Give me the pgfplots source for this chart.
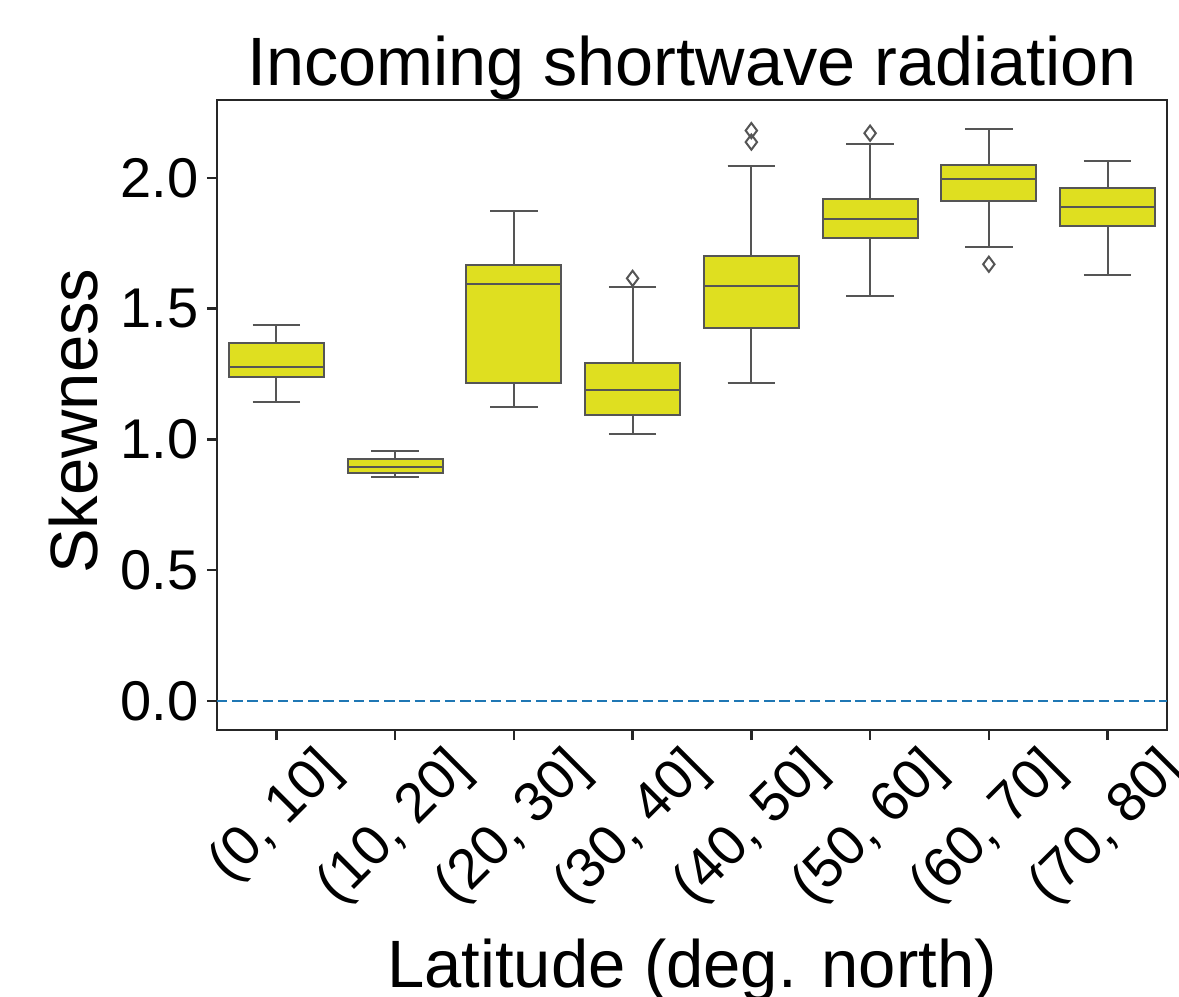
\documentclass[border=0pt]{standalone}
\usepackage{fontspec}
\setmainfont{Liberation Sans}
\usepackage{graphicx}
\usepackage{pgfplots}
\pgfplotsset{compat=1.18}
\usepgfplotslibrary{statistics}
\definecolor{boxfill}{HTML}{DFDF20}
\definecolor{edge}{HTML}{555555}
\definecolor{tabblue}{HTML}{1F77B4}
\newcommand{\tl}[1]{\rotatebox{45}{#1}}
\begin{document}
\begin{tikzpicture}
\begin{axis}[
  scale only axis,
  width=237.5bp, height=157.5bp,
  xmin=-0.5, xmax=7.5,
  ymin=-0.111, ymax=2.298,
  xtick={0,1,2,3,4,5,6,7},
  xticklabels={{\tl{(0, 10]}},{\tl{(10, 20]}},{\tl{(20, 30]}},{\tl{(30, 40]}},{\tl{(40, 50]}},{\tl{(50, 60]}},{\tl{(60, 70]}},{\tl{(70, 80]}}},
  ytick={0,0.5,1,1.5,2},
  yticklabel style={/pgf/number format/.cd, fixed, fixed zerofill, precision=1, /tikz/.cd},
  /pgf/number format/assume math mode=true,
  tick align=outside,
  xtick pos=bottom, ytick pos=left,
  major tick length=2.5bp,
  axis line style={line width=0.6bp, draw=black!85},
  tick style={line width=0.6bp, draw=black!85},
  ticklabel style={font=\fontsize{14bp}{16bp}\selectfont},
  xticklabel style={anchor=north, inner sep=0pt, yshift=-0.5bp},
  yticklabel style={inner sep=0pt, xshift=-2bp},
  title={Incoming shortwave radiation},
  every axis title/.style={at={(axis description cs:0.5,1.0238)}, anchor=base, font=\fontsize{17.1bp}{19bp}\selectfont, inner sep=0pt},
  xlabel={Latitude (deg. north)},
  xlabel style={at={(axis description cs:0.5,-0.408)}, anchor=base, font=\fontsize{16.75bp}{19bp}\selectfont, inner sep=0pt},
  ylabel={Skewness},
  ylabel style={at={(axis description cs:-0.1263,0.49)}, anchor=base, font=\fontsize{16.75bp}{19bp}\selectfont, inner sep=0pt},
  boxplot/draw direction=y,
  boxplot/box extend=0.8,
  boxplot/whisker extend=0.4,
  clip=false,
]
\addplot[tabblue, line width=0.5bp, dash pattern=on 2.6bp off 1.2bp] coordinates {(-0.5,0) (7.5,0)};

\addplot[boxplot prepared={draw position=0, lower whisker=1.143, lower quartile=1.238, median=1.278, upper quartile=1.367, upper whisker=1.436},
  draw=edge, fill=boxfill, line width=0.5bp] coordinates {};
\addplot[boxplot prepared={draw position=1, lower whisker=0.857, lower quartile=0.871, median=0.894, upper quartile=0.925, upper whisker=0.956},
  draw=edge, fill=boxfill, line width=0.5bp] coordinates {};
\addplot[boxplot prepared={draw position=2, lower whisker=1.123, lower quartile=1.216, median=1.593, upper quartile=1.666, upper whisker=1.874},
  draw=edge, fill=boxfill, line width=0.5bp] coordinates {};
\addplot[boxplot prepared={draw position=3, lower whisker=1.020, lower quartile=1.093, median=1.190, upper quartile=1.294, upper whisker=1.582},
  draw=edge, fill=boxfill, line width=0.5bp, mark=diamond, mark size=1.9bp, mark options={draw=edge, fill=white, solid}]
  table[row sep=\\, y index=0, header=false] {1.616\\};
\addplot[boxplot prepared={draw position=4, lower whisker=1.216, lower quartile=1.425, median=1.588, upper quartile=1.703, upper whisker=2.046},
  draw=edge, fill=boxfill, line width=0.5bp, mark=diamond, mark size=1.9bp, mark options={draw=edge, fill=white, solid}]
  table[row sep=\\, y index=0, header=false] {2.137\\ 2.181\\};
\addplot[boxplot prepared={draw position=5, lower whisker=1.550, lower quartile=1.769, median=1.843, upper quartile=1.921, upper whisker=2.129},
  draw=edge, fill=boxfill, line width=0.5bp, mark=diamond, mark size=1.9bp, mark options={draw=edge, fill=white, solid}]
  table[row sep=\\, y index=0, header=false] {2.171\\};
\addplot[boxplot prepared={draw position=6, lower whisker=1.734, lower quartile=1.911, median=1.994, upper quartile=2.051, upper whisker=2.186},
  draw=edge, fill=boxfill, line width=0.5bp, mark=diamond, mark size=1.9bp, mark options={draw=edge, fill=white, solid}]
  table[row sep=\\, y index=0, header=false] {1.670\\};
\addplot[boxplot prepared={draw position=7, lower whisker=1.629, lower quartile=1.816, median=1.890, upper quartile=1.963, upper whisker=2.066},
  draw=edge, fill=boxfill, line width=0.5bp] coordinates {};
\end{axis}
\pgfresetboundingbox
\useasboundingbox (-54.25bp,-66.75bp) rectangle (240.5bp,182.5bp);
\end{tikzpicture}
\end{document}
